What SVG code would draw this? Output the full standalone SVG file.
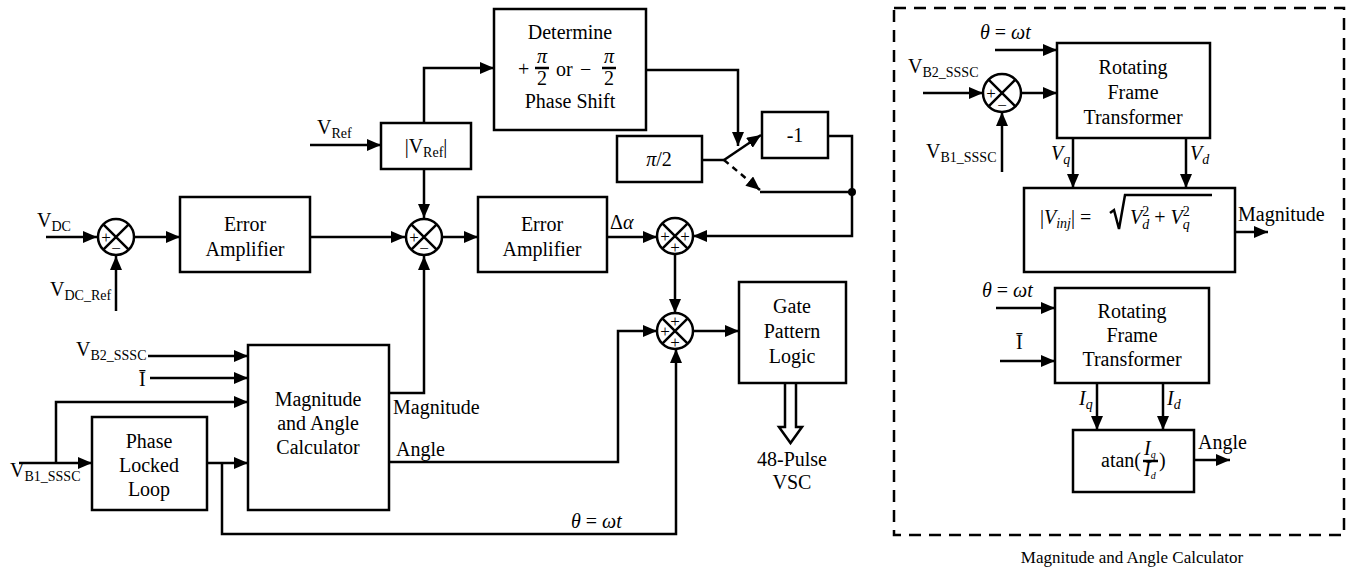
<svg xmlns="http://www.w3.org/2000/svg" width="1347" height="572" viewBox="0 0 1347 572">
<defs>
<marker id="ah" markerUnits="userSpaceOnUse" markerWidth="14" markerHeight="12" refX="14" refY="6" orient="auto"><path d="M0,0 L14,6 L0,12 z" fill="#000" stroke="none"/></marker>
<style>
.box{fill:#fff;stroke:#000;stroke-width:2.5}
.ln{fill:none;stroke:#000;stroke-width:2.5}
.ar{fill:none;stroke:#000;stroke-width:2.5;marker-end:url(#ah)}
.t{font-family:"Times New Roman","Liberation Serif",serif;font-size:20px;fill:#000}
.s{font-family:"Times New Roman","Liberation Serif",serif;font-size:17px;fill:#000;text-anchor:middle}
.m{text-anchor:middle}
</style>
</defs>
<rect width="1347" height="572" fill="#fff"/>

<g id="connectors">
<path class="ar" d="M46,237 H97"/>
<path class="ar" d="M135,237 H180"/>
<path class="ar" d="M116,311 V256"/>
<path class="ar" d="M310,237 H405"/>
<path class="ar" d="M310,145 H381"/>
<path class="ar" d="M424,123 V68 H494"/>
<path class="ar" d="M424,169 V218"/>
<path class="ar" d="M443,237 H478"/>
<path class="ar" d="M607,237 H657"/>
<path class="ar" d="M646,70 H738 V146"/>
<path class="ln" d="M702,160 H724"/>
<path class="ar" d="M724,160 L761,135"/>
<path class="ar" d="M724,160 L760,190" stroke-dasharray="6,5"/>
<path class="ar" d="M828,136 H852 V236 H693"/>
<path class="ln" d="M760,192 H852"/>
<circle cx="852" cy="192" r="4" fill="#000"/>
<path class="ar" d="M675,254 V313"/>
<path class="ar" d="M693,331 H739"/>
<path class="ar" d="M389,393 H424 V256"/>
<path class="ar" d="M389,462 H618 V331 H657"/>
<path class="ar" d="M222,463 V534 H676 V349"/>
<path class="ar" d="M148,356 H248"/>
<path class="ar" d="M150,378 H248"/>
<path class="ar" d="M56,463 V402 H248"/>
<path class="ar" d="M19,463 H92"/>
<path class="ar" d="M207,463 H248"/>
<path class="box" d="M785,383 V427 H779 L790.5,443 L802,427 H796 V383"/>
<path class="ar" d="M995,50 H1057"/>
<path class="ar" d="M923,93 H983"/>
<path class="ar" d="M1021,93 H1057"/>
<path class="ar" d="M1002,172 V112"/>
<path class="ar" d="M1073,138 V188"/>
<path class="ar" d="M1186,138 V188"/>
<path class="ar" d="M1235,232 H1268"/>
<path class="ar" d="M996,308 H1055"/>
<path class="ar" d="M1000,361 H1055"/>
<path class="ar" d="M1097,383 V430"/>
<path class="ar" d="M1163,383 V430"/>
<path class="ar" d="M1194,460 H1230"/>
</g>

<g id="sum1"><circle class="box" cx="116" cy="237" r="18"/><path class="ln" d="M103.3,224.3 L128.7,249.7 M128.7,224.3 L103.3,249.7"/><text class="s" x="106" y="243">+</text><text class="s" x="116" y="254">−</text></g>
<g id="sum2"><circle class="box" cx="424" cy="237" r="18"/><path class="ln" d="M411.3,224.3 L436.7,249.7 M436.7,224.3 L411.3,249.7"/><text class="s" x="414" y="243">+</text><text class="s" x="424" y="254">−</text></g>
<g id="sum3"><circle class="box" cx="675" cy="236" r="18"/><path class="ln" d="M662.3,223.3 L687.7,248.7 M687.7,223.3 L662.3,248.7"/><text class="s" x="665" y="242">+</text><text class="s" x="685" y="242">+</text><text class="s" x="675" y="253">+</text></g>
<g id="sum4"><circle class="box" cx="675" cy="331" r="18"/><path class="ln" d="M662.3,318.3 L687.7,343.7 M687.7,318.3 L662.3,343.7"/><text class="s" x="675" y="327">+</text><text class="s" x="665" y="337">+</text><text class="s" x="675" y="348">+</text></g>

<g id="ea1"><rect class="box" x="180" y="197" width="130" height="75"/><text class="t m" x="245" y="231">Error</text><text class="t m" x="245" y="256">Amplifier</text></g>
<g id="ea2"><rect class="box" x="478" y="197" width="129" height="75"/><text class="t m" x="542" y="231">Error</text><text class="t m" x="542" y="256">Amplifier</text></g>
<g id="vref"><rect class="box" x="381" y="123" width="90" height="46"/><text class="t m" x="426" y="153">|V<tspan font-size="14" dy="4">Ref</tspan><tspan dy="-4">|</tspan></text></g>
<g id="determine"><rect class="box" x="494" y="9" width="152" height="121"/>
<text class="t m" x="570" y="39">Determine</text>
<text class="t" x="518" y="76">+</text>
<text class="t m" x="542" y="63" font-size="18" font-style="italic">π</text><path class="ln" stroke-width="2" d="M535,68 H549"/><text class="t m" x="542" y="85" font-size="18">2</text>
<text class="t" x="556" y="76">or</text>
<text class="t" x="580" y="76">−</text>
<text class="t m" x="609" y="63" font-size="18" font-style="italic">π</text><path class="ln" stroke-width="2" d="M602,68 H616"/><text class="t m" x="609" y="85" font-size="18">2</text>
<text class="t m" x="570" y="108">Phase Shift</text></g>
<g id="pi2"><rect class="box" x="617" y="136" width="85" height="46"/><text class="t m" x="659" y="166"><tspan font-style="italic">π</tspan>/2</text></g>
<g id="neg1"><rect class="box" x="762" y="112" width="66" height="46"/><text class="t m" x="795" y="142">-1</text></g>
<g id="gate"><rect class="box" x="739" y="282" width="107" height="101"/><text class="t m" x="792" y="313">Gate</text><text class="t m" x="792" y="338">Pattern</text><text class="t m" x="792" y="363">Logic</text></g>
<g id="vsc"><text class="t m" x="792" y="466">48-Pulse</text><text class="t m" x="792" y="489">VSC</text></g>
<g id="mac"><rect class="box" x="248" y="345" width="141" height="165"/><text class="t m" x="318" y="406">Magnitude</text><text class="t m" x="318" y="430">and Angle</text><text class="t m" x="318" y="454">Calculator</text></g>
<g id="pll"><rect class="box" x="92" y="417" width="115" height="93"/><text class="t m" x="149" y="448">Phase</text><text class="t m" x="149" y="472">Locked</text><text class="t m" x="149" y="496">Loop</text></g>

<g id="labels">
<text class="t" x="37" y="227">V<tspan font-size="14" dy="4">DC</tspan></text>
<text class="t" x="50" y="296">V<tspan font-size="14" dy="4">DC_Ref</tspan></text>
<text class="t" x="317" y="134">V<tspan font-size="14" dy="4">Ref</tspan></text>
<text class="t" x="76" y="356">V<tspan font-size="14" dy="4">B2_SSSC</tspan></text>
<text class="t" x="139" y="386">Ī</text>
<text class="t" x="10" y="477">V<tspan font-size="14" dy="4">B1_SSSC</tspan></text>
<text class="t" x="610" y="229">Δ<tspan font-style="italic">α</tspan></text>
<text class="t" x="393" y="414">Magnitude</text>
<text class="t" x="396" y="456">Angle</text>
<text class="t" x="571" y="528"><tspan font-style="italic">θ</tspan> = <tspan font-style="italic">ωt</tspan></text>
</g>

<g id="panel">
<rect x="894" y="8" width="450" height="527" fill="none" stroke="#000" stroke-width="2.5" stroke-dasharray="12,8"/>
<text class="s" x="1132" y="563">Magnitude and Angle Calculator</text>
</g>
<g id="sum5"><circle class="box" cx="1002" cy="93" r="19"/><path class="ln" d="M988.6,79.6 L1015.4,106.4 M1015.4,79.6 L988.6,106.4"/><text class="s" x="991" y="99">+</text><text class="s" x="1002" y="111">−</text></g>
<g id="rft1"><rect class="box" x="1057" y="43" width="153" height="95"/><text class="t m" x="1133" y="74">Rotating</text><text class="t m" x="1133" y="99">Frame</text><text class="t m" x="1133" y="124">Transformer</text></g>
<g id="mag"><rect class="box" x="1024" y="188" width="211" height="84"/>
<text class="t" x="1040" y="224">|<tspan font-style="italic">V</tspan><tspan font-size="14" font-style="italic" dy="4">inj</tspan><tspan dy="-4">| =</tspan></text>
<path class="ln" stroke-width="1.8" d="M1110,213 L1114,210 L1119,229 L1125,195 H1212"/>
<text class="t" x="1130" y="224"><tspan font-style="italic">V</tspan><tspan font-size="14" font-style="italic" dy="5">d</tspan><tspan font-size="14" dx="-7" dy="-13">2</tspan><tspan dy="8"> + </tspan><tspan font-style="italic">V</tspan><tspan font-size="14" font-style="italic" dy="5">q</tspan><tspan font-size="14" dx="-7" dy="-13">2</tspan></text>
</g>
<g id="rft2"><rect class="box" x="1055" y="288" width="154" height="95"/><text class="t m" x="1132" y="318">Rotating</text><text class="t m" x="1132" y="342">Frame</text><text class="t m" x="1132" y="366">Transformer</text></g>
<g id="atan"><rect class="box" x="1073" y="430" width="121" height="62"/>
<text class="t" x="1101" y="467">atan(</text>
<text class="t" x="1144" y="455" font-size="13" font-style="italic">I<tspan dy="3" font-size="10">q</tspan></text>
<path class="ln" stroke-width="1.5" d="M1143,461 H1158"/>
<text class="t" x="1144" y="476" font-size="13" font-style="italic">I<tspan dy="3" font-size="10">d</tspan></text>
<text class="t" x="1159" y="467">)</text>
</g>
<g id="panel-labels">
<text class="t" x="980" y="39"><tspan font-style="italic">θ</tspan> = <tspan font-style="italic">ωt</tspan></text>
<text class="t" x="908" y="73">V<tspan font-size="14" dy="4">B2_SSSC</tspan></text>
<text class="t" x="926" y="158">V<tspan font-size="14" dy="4">B1_SSSC</tspan></text>
<text class="t" x="1051" y="160" font-style="italic">V<tspan font-size="14" dy="4">q</tspan></text>
<text class="t" x="1190" y="160" font-style="italic">V<tspan font-size="14" dy="4">d</tspan></text>
<text class="t" x="1238" y="221">Magnitude</text>
<text class="t" x="982" y="297"><tspan font-style="italic">θ</tspan> = <tspan font-style="italic">ωt</tspan></text>
<text class="t" x="1016" y="349">Ī</text>
<text class="t" x="1079" y="405" font-style="italic">I<tspan font-size="14" dy="4">q</tspan></text>
<text class="t" x="1167" y="405" font-style="italic">I<tspan font-size="14" dy="4">d</tspan></text>
<text class="t" x="1198" y="449">Angle</text>
</g>
</svg>
